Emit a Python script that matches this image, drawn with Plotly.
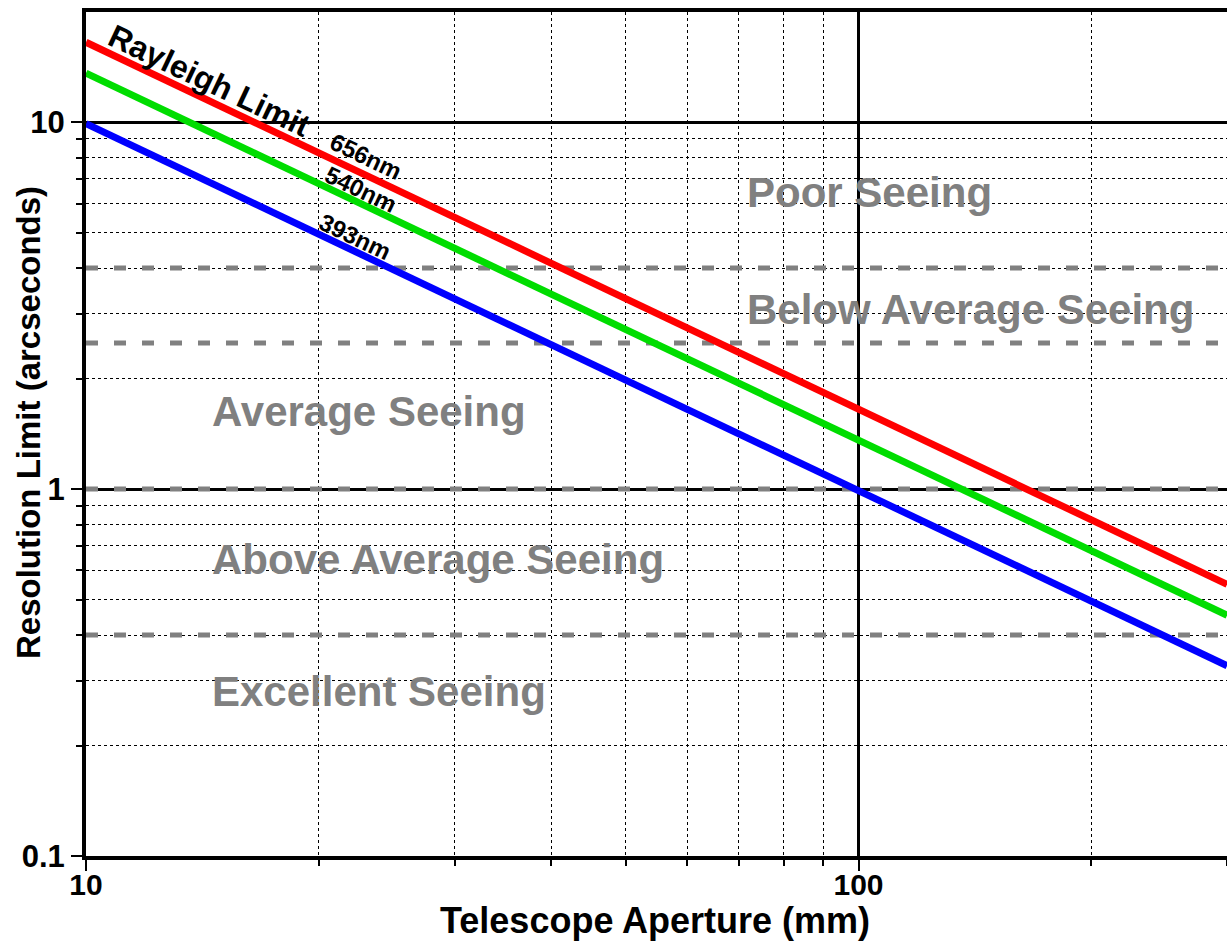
import plotly.graph_objects as go

# ---- data ----
aperture_mm = [10, 300]
res_656nm = [16.5, 0.55]
res_540nm = [13.6, 0.453]
res_393nm = [9.9, 0.33]
seeing_bounds = [4, 2.5, 1, 0.4]
seeing_labels = ["Poor Seeing", "Below Average Seeing", "Average Seeing",
                 "Above Average Seeing", "Excellent Seeing"]
wave_labels = ["656nm", "540nm", "393nm"]
x_major = [10, 100]
x_minor = [20, 30, 40, 50, 60, 70, 80, 90, 200, 300]
y_major = [0.1, 1, 10]
y_minor = [0.2, 0.3, 0.4, 0.5, 0.6, 0.7, 0.8, 0.9, 2, 3, 4, 5, 6, 7, 8, 9, 20]
x_ticktext = ["10", "100"]
y_ticktext = ["0.1", "1", "10"]
x_title = "Telescope Aperture (mm)"
y_title = "Resolution Limit (arcseconds)"

FONT = "Liberation Sans"
fig = go.Figure()

for b in seeing_bounds:
    fig.add_trace(go.Scatter(x=[aperture_mm[0], aperture_mm[-1]], y=[b, b], mode="lines",
                             line=dict(color="#808080", width=5, dash="12px,16px"),
                             hoverinfo="skip", showlegend=False))

for ys, col in [(res_656nm, "#ff0000"), (res_540nm, "#00dd00"), (res_393nm, "#0000ff")]:
    fig.add_trace(go.Scatter(x=aperture_mm, y=ys, mode="lines",
                             line=dict(color=col, width=7), showlegend=False))

ann = []
seeing_pos = [(1.853, 0.809), (1.853, 0.488), (1.1605, 0.2125), (1.1605, -0.193), (1.1605, -0.553)]
for t, (xl, yl) in zip(seeing_labels, seeing_pos):
    ann.append(dict(x=xl, y=yl, xref="x", yref="y", text=t, showarrow=False,
                    xanchor="left", yanchor="middle",
                    font=dict(family=FONT, size=42, color="#808080", weight="bold")))

ang = 25.4
ann.append(dict(x=1.1605, y=1.112, xref="x", yref="y", text="Rayleigh Limit", showarrow=False,
                textangle=ang, font=dict(family=FONT, size=32, color="black", weight="bold")))
wave_pos = [(1.3625, 0.907), (1.356, 0.817), (1.348, 0.687)]
for t, (xl, yl) in zip(wave_labels, wave_pos):
    ann.append(dict(x=xl, y=yl, xref="x", yref="y", text=t, showarrow=False,
                    textangle=ang, font=dict(family=FONT, size=24, color="black", weight="bold")))

# axis titles
ann.append(dict(x=0.499, y=-0.077, xref="paper", yref="paper", text=x_title, showarrow=False,
                xanchor="center", yanchor="middle",
                font=dict(family=FONT, size=36, color="black", weight="bold")))
ann.append(dict(x=-0.051, y=0.514, xref="paper", yref="paper", text=y_title, showarrow=False,
                xanchor="center", yanchor="middle", textangle=-90,
                font=dict(family=FONT, size=33, color="black", weight="bold")))

fig.update_layout(
    width=1227, height=941,
    margin=dict(l=86, r=0, t=12, b=85),
    paper_bgcolor="white", plot_bgcolor="white",
    annotations=ann,
    xaxis=dict(type="log", range=[1, 2.477], tickmode="array", tickvals=x_major, ticktext=x_ticktext,
               showgrid=True, gridcolor="black", gridwidth=2.5,
               ticks="outside", ticklen=11, tickwidth=1.5, tickcolor="black",
               ticklabelstandoff=-12,
               showline=True, linecolor="black", linewidth=4, mirror=True, zeroline=False,
               tickfont=dict(family=FONT, size=30, color="black", weight="bold"),
               minor=dict(tickmode="array", tickvals=x_minor, ticks="outside", ticklen=6,
                          tickcolor="black", showgrid=True, gridcolor="black",
                          griddash="dot", gridwidth=1),
               automargin=False),
    yaxis=dict(type="log", range=[-1, 1.3], tickmode="array", tickvals=y_major, ticktext=y_ticktext,
               showgrid=True, gridcolor="black", gridwidth=2.5,
               ticks="outside", ticklen=11, tickwidth=1.5, tickcolor="black",
               showline=True, linecolor="black", linewidth=4, mirror=False, zeroline=False,
               tickfont=dict(family=FONT, size=31, color="black", weight="bold"),
               minor=dict(tickmode="array", tickvals=y_minor, ticks="outside", ticklen=6,
                          tickcolor="black", showgrid=True, gridcolor="black",
                          griddash="dot", gridwidth=1),
               automargin=False),
)

fig.write_html("out.html", config={"displayModeBar": False},
               post_script="document.body.style.margin='0';document.body.style.overflow='hidden';")
